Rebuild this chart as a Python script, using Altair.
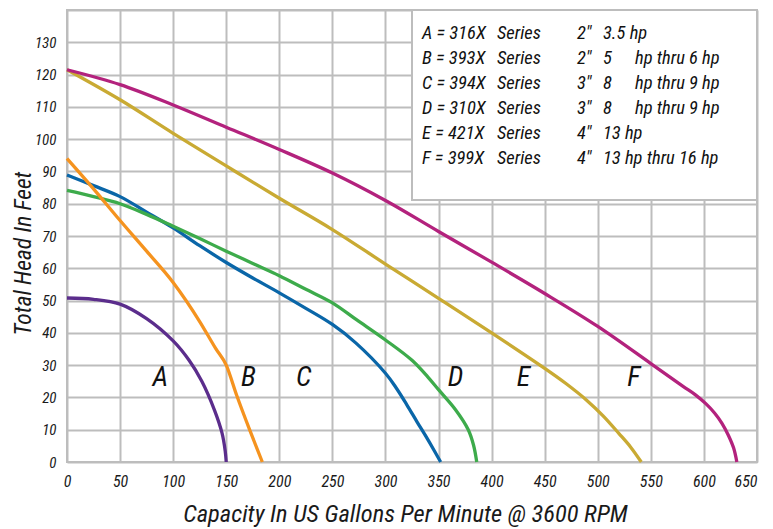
import altair as alt
import pandas as pd

FONT = "Liberation Sans Narrow, Roboto Condensed, Arial Narrow, Liberation Sans, sans-serif"

curve_names = ["A", "B", "C", "D", "E", "F"]
curve_colors = ["#5b2d8c", "#f5931f", "#0a66a8", "#3dab4b", "#c9aa33", "#b3227d"]

A_x = [0, 25, 50, 75, 100, 115, 127, 139, 146, 149, 150]
A_y = [50.8, 50.4, 48.9, 44.4, 37.5, 31.5, 25, 16, 9, 3.5, 0]

B_x = [0, 25, 50, 75, 100, 125, 140, 150, 160, 172, 184]
B_y = [94, 84.6, 74.8, 65.3, 55.6, 43.5, 35.2, 30, 20.5, 10, 0]

C_x = [0, 25, 50, 75, 100, 125, 150, 175, 200, 225, 250, 272, 300, 310, 320, 330, 338, 346, 352]
C_y = [88.9, 85.6, 82.2, 77.4, 72.5, 67, 61.8, 57, 52.4, 47.6, 42.6, 36.9, 27.5, 23, 17.8, 12.3, 8, 3.5, 0]

D_x = [0, 25, 50, 75, 100, 125, 150, 175, 200, 225, 250, 273, 300, 325, 340, 350, 366, 378, 383, 386]
D_y = [84.1, 82.2, 80, 76.7, 73, 69.2, 65.3, 61.5, 57.7, 53.5, 49.3, 44, 37.8, 31.5, 26.3, 22.4, 16.2, 10, 5.2, 0]

E_x = [0, 50, 100, 150, 200, 250, 300, 350, 400, 450, 470, 490, 505, 520, 531, 541]
E_y = [121.5, 112.2, 101.8, 91.7, 81.7, 72, 61.3, 50.7, 40, 29, 24.3, 19, 14.3, 8.8, 4.6, 0]

F_x = [0, 50, 100, 150, 200, 250, 300, 350, 400, 450, 500, 550, 580, 592, 602, 610, 617, 623, 628, 631]
F_y = [121.5, 116.9, 110.6, 103.7, 96.8, 89.5, 81, 71.4, 61.9, 52.2, 42, 30.5, 23.5, 20.8, 18, 15.2, 12, 8.3, 4.3, 0]

label_x = [88, 171, 223, 366, 430, 534]
label_y = [26, 26, 26, 26, 26, 26]

legend_c1 = ["A = 316X", "B = 393X", "C = 394X", "D = 310X", "E = 421X", "F = 399X"]
legend_c2 = ["Series"] * 6
legend_c3 = ['2"', '2"', '3"', '3"', '4"', '4"']
legend_c4 = ["3.5 hp", "5", "8", "8", "13 hp", "13 hp thru 16 hp"]
legend_c5 = ["", "hp thru 6 hp", "hp thru 9 hp", "hp thru 9 hp", "", ""]

x_ticks = list(range(0, 651, 50))
y_ticks = list(range(0, 141, 10))

W, H = 690, 452
XMAX, YMAX = 650, 140

xs = [A_x, B_x, C_x, D_x, E_x, F_x]
ys = [A_y, B_y, C_y, D_y, E_y, F_y]
rows = []
for name, cx, cy in zip(curve_names, xs, ys):
    for i, (a, b) in enumerate(zip(cx, cy)):
        rows.append({"curve": name, "idx": i, "gpm": a, "head": b})
df = pd.DataFrame(rows)

lab_df = pd.DataFrame({"curve": curve_names, "gpm": label_x, "head": label_y})

# legend text layout (pixel offsets inside the plot, converted to data units)
col_px = [355, 430, 510, 536, 568]
leg_rows = []
for r in range(6):
    for c, col in enumerate([legend_c1, legend_c2, legend_c3, legend_c4, legend_c5]):
        if col[r]:
            px = col_px[c]
            py = 23 + r * 25
            leg_rows.append({"txt": col[r], "gpm": px * XMAX / W, "head": YMAX - py * YMAX / H})
leg_df = pd.DataFrame(leg_rows)

xscale = alt.Scale(domain=[0, XMAX], nice=False, zero=False)
yscale = alt.Scale(domain=[0, YMAX], nice=False)

GRID = "#bdbdbd"
INK = "#1a1a1a"

xaxis = alt.Axis(
    values=x_ticks, grid=True, gridColor=GRID, gridWidth=2, domain=False, ticks=False,
    labelFont=FONT, labelFontStyle="italic", labelFontSize=16, labelColor=INK,
    labelPadding=11,
    labelAlign={"condition": {"test": "datum.value >= 650", "value": "right"}, "value": "center"},
    title="Capacity In US Gallons Per Minute @ 3600 RPM",
    titleFont=FONT, titleFontStyle="italic", titleFontWeight="normal", titleFontSize=24.5,
    titleColor=INK, titleX=338, titleY=59, titleAlign="center", titleBaseline="alphabetic",
)
yaxis = alt.Axis(
    values=y_ticks, grid=True, gridColor=GRID, gridWidth=2, domain=False, ticks=False,
    labelFont=FONT, labelFontStyle="italic", labelFontSize=15, labelColor=INK,
    labelPadding=11, labelExpr="datum.value >= 140 ? '' : datum.label",
    title="Total Head In Feet",
    titleFont=FONT, titleFontStyle="italic", titleFontWeight="normal", titleFontSize=23.5,
    titleColor=INK, titleX=-44, titleY=243, titleAngle=270,
    titleAlign="center", titleBaseline="middle",
)

X = alt.X("gpm:Q", scale=xscale, axis=xaxis)
Y = alt.Y("head:Q", scale=yscale, axis=yaxis)
COLOR = alt.Color("curve:N", scale=alt.Scale(domain=curve_names, range=curve_colors), legend=None)

smooth_lines = alt.Chart(df).transform_filter("datum.curve != 'B'").mark_line(
    strokeWidth=3.3, interpolate="catmull-rom"
).encode(x=X, y=Y, color=COLOR, order="idx:Q")

kinked_line = alt.Chart(df).transform_filter("datum.curve == 'B'").mark_line(
    strokeWidth=3.3, interpolate="monotone"
).encode(x=X, y=Y, color=COLOR, order="idx:Q")

box = alt.Chart(pd.DataFrame({"a": [0]})).mark_rect(
    fill="white", stroke=GRID, strokeWidth=2
).encode(
    x=alt.value(345), x2=alt.value(690), y=alt.value(0), y2=alt.value(190)
)

labels = alt.Chart(lab_df).mark_text(
    font=FONT, fontStyle="italic", fontSize=28, color="#111", align="center", baseline="middle"
).encode(x=X, y=Y, text="curve:N")

legend = alt.Chart(leg_df).mark_text(
    font=FONT, fontStyle="italic", fontSize=18.5, color="#111", align="left", baseline="middle"
).encode(x=X, y=Y, text="txt:N")

chart = alt.layer(smooth_lines, kinked_line, box, labels, legend).properties(
    width=W, height=H,
    autosize=alt.AutoSizeParams(type="none"),
    padding={"left": 59, "top": 2, "right": 8, "bottom": 66},
).configure_view(stroke=GRID, strokeWidth=2)

chart.save("out.html", embed_options={"renderer": "svg", "actions": False})
